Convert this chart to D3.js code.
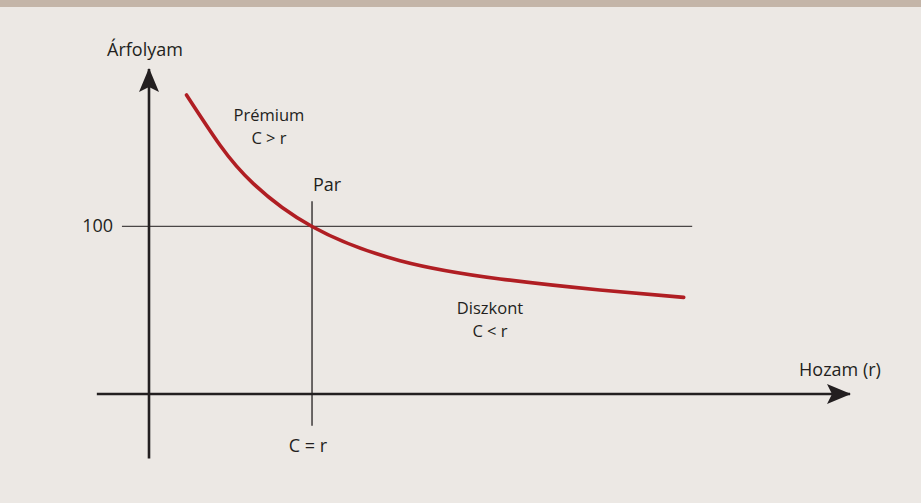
<!DOCTYPE html>
<html>
<head>
<meta charset="utf-8">
<script src="https://cdn.jsdelivr.net/npm/d3@7"></script>
<style>
  body { margin: 0; background: #ece8e4; }
  text { font-family: "Open Sans", sans-serif; font-size: 18px; fill: #231f20; }
  text.two { font-size: 16.5px; }
</style>
</head>
<body>
<div id="main"></div>
<script>
// yield (r, %) and price
var rates  = [1.15, 2.18, 3.2, 5, 7.7, 10.77, 13.83, 16.4];
var prices = [178.5, 148.5, 125.6, 100, 79.6, 68.7, 62.1, 57.7];
var parRate = 5;
var parPrice = 100;
var yTicks = [100];

var width = 921, height = 503;

var svg = d3.select("#main").append("svg")
	.attr("width", width)
	.attr("height", height);

svg.append("rect")
	.attr("x", 0).attr("y", 0)
	.attr("width", width).attr("height", height)
	.attr("fill", "#ece8e4");

// top band
svg.append("rect")
	.attr("x", 0).attr("y", 0)
	.attr("width", width).attr("height", 7)
	.attr("fill", "#c4b5a8");

var x = d3.scaleLinear().domain([0, 21.5]).range([149, 850]);
var y = d3.scaleLinear().domain([0, 194]).range([394, 69]);

// arrow heads
var defs = svg.append("defs");
defs.append("marker")
	.attr("id", "arrow")
	.attr("viewBox", "0 0 24 20")
	.attr("refX", 23).attr("refY", 10)
	.attr("markerUnits", "userSpaceOnUse")
	.attr("markerWidth", 24).attr("markerHeight", 20)
	.attr("orient", "auto")
	.append("path")
	.attr("d", "M0,0 L24,10 L0,20 L5,10 Z")
	.attr("fill", "#231f20");

// 100 guide line
svg.append("line")
	.attr("x1", x(-0.83)).attr("x2", x(16.66))
	.attr("y1", y(parPrice)).attr("y2", y(parPrice))
	.attr("stroke", "#4a4646").attr("stroke-width", 1.3);

// par vertical line
svg.append("line")
	.attr("x1", x(parRate)).attr("x2", x(parRate))
	.attr("y1", y(115)).attr("y2", y(-19))
	.attr("stroke", "#231f20").attr("stroke-width", 1.3);

// axes
svg.append("line")
	.attr("x1", x(-1.6)).attr("x2", x(21.5))
	.attr("y1", y(0)).attr("y2", y(0))
	.attr("stroke", "#231f20").attr("stroke-width", 2.6)
	.attr("marker-end", "url(#arrow)");

svg.append("line")
	.attr("x1", x(0)).attr("x2", x(0))
	.attr("y1", y(-38.5)).attr("y2", y(194))
	.attr("stroke", "#231f20").attr("stroke-width", 2.6)
	.attr("marker-end", "url(#arrow)");

// price curve
var pts = rates.map(function(r, i) { return [r, prices[i]]; });
var line = d3.line()
	.x(function(d) { return x(d[0]); })
	.y(function(d) { return y(d[1]); })
	.curve(d3.curveNatural);

svg.append("path")
	.datum(pts)
	.attr("d", line)
	.attr("fill", "none")
	.attr("stroke", "#b01e23")
	.attr("stroke-width", 3.6)
	.attr("stroke-linecap", "round");

// tick label
svg.selectAll(".ytick").data(yTicks).enter().append("text")
	.attr("class", "ytick")
	.attr("x", x(-1.1))
	.attr("y", function(d) { return y(d) + 6; })
	.attr("text-anchor", "end")
	.text(function(d) { return d; });

// labels
function label(t, px, py, anchor, cls) {
	svg.append("text")
		.attr("class", cls || null)
		.attr("x", px).attr("y", py)
		.attr("text-anchor", anchor || "middle")
		.text(t);
}
label("Árfolyam", 145, 56);
label("Hozam (r)", 840, 376);
label("Prémium", 269, 121, "middle", "two");
label("C > r", 269, 144, "middle", "two");
label("Par", 313, 191, "start");
label("Diszkont", 490, 314, "middle", "two");
label("C < r", 490, 337, "middle", "two");
label("C = r", 308, 452);
</script>
</body>
</html>
